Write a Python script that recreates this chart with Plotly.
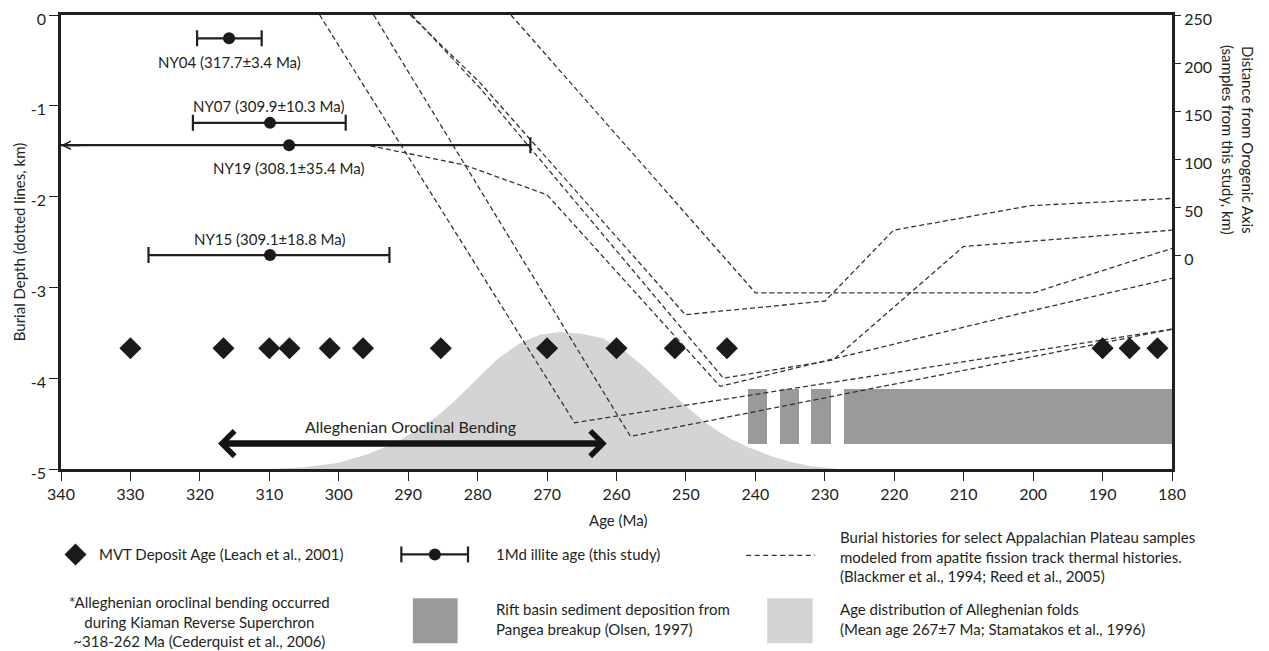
import plotly.graph_objects as go

# ---------------- data ----------------
# MVT deposit ages (Leach et al., 2001)
mvt_age = [330, 316.6, 310, 307.1, 301.3, 296.5, 285.3, 270, 260, 251.6, 244.1, 190, 186.1, 182.1]
mvt_depth = [-3.67, -3.67, -3.67, -3.67, -3.67, -3.67, -3.67, -3.67, -3.67, -3.67, -3.67, -3.67, -3.67, -3.67]

# 1Md illite ages (this study)
illite_label = ["NY04 (317.7±3.4 Ma)", "NY07 (309.9±10.3 Ma)", "NY19 (308.1±35.4 Ma)", "NY15 (309.1±18.8 Ma)"]
illite_age = [315.8, 309.9, 307.15, 309.9]
illite_depth = [-0.257, -1.188, -1.434, -2.644]
illite_err_older = [4.6, 11.1, 35.4, 17.5]
illite_err_younger = [4.7, 10.9, 34.75, 17.2]
illite_label_age = [315.75, 310.1, 307.2, 310.0]
illite_label_depth = [-0.52, -1.0, -1.685, -2.465]

# Age distribution of Alleghenian folds (grey bell)
fold_age = [310, 305, 300, 296, 292, 289, 286, 283, 280, 277, 274, 271, 268, 265, 262,
            259, 256, 253, 250, 247, 244, 241, 238, 235, 232, 228]
fold_depth = [-5.0, -4.98, -4.93, -4.84, -4.72, -4.58, -4.43, -4.23, -4.0, -3.78, -3.62, -3.52,
              -3.49, -3.51, -3.56, -3.69, -3.88, -4.10, -4.31, -4.50, -4.65, -4.76, -4.85,
              -4.92, -4.97, -5.0]

# Rift basin sediment deposition (Olsen, 1997)
rift_start = [241.0, 236.5, 232.0, 227.3]
rift_end = [238.3, 233.7, 229.1, 180.0]
rift_top = -4.12
rift_bottom = -4.72

# Burial histories (dashed lines)
burial_a_age = [302.75, 266.05, 180.0]
burial_a_depth = [0.0, -4.49, -3.46]
burial_b_age = [294.97, 258.0, 180.0]
burial_b_depth = [0.0, -4.64, -3.46]
burial_c_age = [289.45, 279.6, 244.6, 228.8, 210.05, 180.0]
burial_c_depth = [0.0, -0.81, -4.0, -3.80, -2.55, -2.37]
burial_d_age = [289.7, 279.6, 250.1, 229.95, 220.1, 200.4, 180.0]
burial_d_depth = [0.0, -0.75, -3.30, -3.15, -2.37, -2.10, -2.02]
burial_e_age = [275.2, 240.0, 200.0, 180.0]
burial_e_depth = [0.0, -3.06, -3.06, -2.57]
burial_f_age = [295.45, 282.0, 270.0, 245.07, 200.4, 180.0]
burial_f_depth = [-1.44, -1.65, -1.98, -4.09, -3.26, -2.90]

# Alleghenian oroclinal bending (~318-262 Ma)
bend_start = 317.6
bend_end = 261.4
bend_depth = -4.72
bend_label_age = 289.6
bend_label_depth = -4.53

# axes
age_ticks = [340, 330, 320, 310, 300, 290, 280, 270, 260, 250, 240, 230, 220, 210, 200, 190, 180]
depth_ticks = [0, -1, -2, -3, -4, -5]
depth_ticktext = ["0", "-1", "-2", "-3", "-4", "-5"]
dist_ticks = [0, 50, 100, 150, 200, 250]

# ---------------- styling / layout ----------------
FONT = "Lato"
INK = "#231f20"
DASH_COLOR = "#353535"
OFF = 8                      # page offset of the plot div (body margin)
W, H = 1261, 643
PLOT_L, PLOT_T, PW, PH = 60.5, 15, 1111.5, 454.5   # plot area in page pixels
ML = PLOT_L - OFF
MT = PLOT_T - OFF
MR = W - ML - PW
MB = H - MT - PH


def px_x(px):
    return (px - PLOT_L) / PW


def px_y(py):
    return (PLOT_T + PH - py) / PH


fig = go.Figure()

# grey fold distribution
fig.add_trace(go.Scatter(x=fold_age, y=fold_depth, mode="lines", fill="toself",
                         fillcolor="#d4d4d4", line=dict(width=0, color="#d4d4d4"),
                         hoverinfo="skip", showlegend=False))

# rift basin blocks
fig.add_trace(go.Bar(x=[(s + e) / 2 for s, e in zip(rift_start, rift_end)],
                     width=[s - e for s, e in zip(rift_start, rift_end)],
                     y=[rift_top - rift_bottom for _ in rift_start],
                     base=rift_bottom, marker=dict(color="#999a9a", line=dict(width=0)),
                     hoverinfo="skip", showlegend=False))

# burial histories
for ages, depths in [(burial_a_age, burial_a_depth), (burial_b_age, burial_b_depth),
                     (burial_c_age, burial_c_depth), (burial_d_age, burial_d_depth),
                     (burial_e_age, burial_e_depth), (burial_f_age, burial_f_depth)]:
    fig.add_trace(go.Scatter(x=ages, y=depths, mode="lines",
                             line=dict(color=DASH_COLOR, width=1.3, dash="5px,3px"),
                             hoverinfo="skip", showlegend=False))

# MVT diamonds
fig.add_trace(go.Scatter(x=mvt_age, y=mvt_depth, mode="markers",
                         marker=dict(symbol="diamond", size=17, color="#1a1a1a"),
                         hoverinfo="skip", showlegend=False))

# illite ages
fig.add_trace(go.Scatter(x=illite_age, y=illite_depth, mode="markers",
                         marker=dict(symbol="circle", size=12, color="#1a1a1a"),
                         error_x=dict(type="data", symmetric=False, array=illite_err_older,
                                      arrayminus=illite_err_younger, thickness=2.2, width=8,
                                      color=INK),
                         hoverinfo="skip", showlegend=False))

# invisible trace to carry the right axis
fig.add_trace(go.Scatter(x=[260], y=[0], yaxis="y2", mode="markers",
                         marker=dict(opacity=0), hoverinfo="skip", showlegend=False))

annotations = []
for txt, a, d in zip(illite_label, illite_label_age, illite_label_depth):
    annotations.append(dict(x=a, y=d, xref="x", yref="y", text=txt, showarrow=False,
                            xanchor="center", yanchor="middle",
                            font=dict(family=FONT, size=15, color=INK)))

# NY19 arrowhead at left axis
annotations.append(dict(x=340, y=illite_depth[2], ax=337, ay=illite_depth[2], xref="x", yref="y",
                        axref="x", ayref="y", text="", showarrow=True, arrowhead=5,
                        arrowsize=0.8, arrowwidth=2, arrowcolor=INK))

# Alleghenian bending arrow
annotations.append(dict(x=bend_end, y=bend_depth, ax=bend_start, ay=bend_depth, xref="x", yref="y",
                        axref="x", ayref="y", text="", showarrow=True, arrowside="end+start",
                        arrowhead=4, startarrowhead=4, arrowsize=0.75, startarrowsize=0.75,
                        arrowwidth=6.5, arrowcolor="#141414"))
annotations.append(dict(x=bend_label_age, y=bend_label_depth, xref="x", yref="y",
                        text="Alleghenian Oroclinal Bending", showarrow=False,
                        xanchor="center", yanchor="middle",
                        font=dict(family=FONT, size=16, color=INK)))

# axis titles
annotations.append(dict(x=px_x(18), y=px_y(242), xref="paper", yref="paper",
                        text="Burial Depth (dotted lines, km)", textangle=-90, showarrow=False,
                        xanchor="center", yanchor="middle",
                        font=dict(family=FONT, size=15, color=INK)))
annotations.append(dict(x=px_x(618), y=px_y(521), xref="paper", yref="paper",
                        text="Age (Ma)", showarrow=False, xanchor="center", yanchor="middle",
                        font=dict(family=FONT, size=15, color=INK)))
annotations.append(dict(x=px_x(1238), y=px_y(140), xref="paper", yref="paper",
                        text="Distance from Orogenic Axis<br>(samples from this study, km)",
                        textangle=90, showarrow=False, xanchor="center", yanchor="middle",
                        font=dict(family=FONT, size=15, color=INK)))


# legend texts
def legend_text(px, py, txt, xanchor="left", align="left"):
    annotations.append(dict(x=px_x(px), y=px_y(py), xref="paper", yref="paper", text=txt,
                            showarrow=False, xanchor=xanchor, yanchor="middle", align=align,
                            font=dict(family=FONT, size=15, color=INK)))


legend_text(97, 555, "MVT Deposit Age (Leach et al., 2001)")
legend_text(494, 555, "1Md illite age (this study)")
legend_text(838, 557, "Burial histories for select Appalachian Plateau samples<br>"
                      "modeled from apatite fission track thermal histories.<br>"
                      "(Blackmer et al., 1994; Reed et al., 2005)")
legend_text(199, 622, "*Alleghenian oroclinal bending occurred<br>during Kiaman Reverse Superchron<br>"
                      "~318-262 Ma (Cederquist et al., 2006)", xanchor="center", align="center")
legend_text(494, 620, "Rift basin sediment deposition from<br>Pangea breakup (Olsen, 1997)")
legend_text(838, 620, "Age distribution of Alleghenian folds<br>(Mean age 267±7 Ma; Stamatakos et al., 1996)")

shapes = []
# legend diamond
cx, cy, hw, hh = 75, 555, 11, 11
shapes.append(dict(type="path", xref="paper", yref="paper",
                   path=f"M{px_x(cx)},{px_y(cy - hh)} L{px_x(cx + hw)},{px_y(cy)} "
                        f"L{px_x(cx)},{px_y(cy + hh)} L{px_x(cx - hw)},{px_y(cy)} Z",
                   fillcolor="#1a1a1a", line=dict(width=0)))
# legend error bar
shapes.append(dict(type="line", xref="paper", yref="paper", x0=px_x(401), x1=px_x(467.7),
                   y0=px_y(555), y1=px_y(555), line=dict(color=INK, width=2.2)))
for xx in (401, 467.7):
    shapes.append(dict(type="line", xref="paper", yref="paper", x0=px_x(xx), x1=px_x(xx),
                       y0=px_y(547), y1=px_y(563), line=dict(color=INK, width=2.2)))
shapes.append(dict(type="circle", xref="paper", yref="paper", x0=px_x(428.5), x1=px_x(440.5),
                   y0=px_y(549), y1=px_y(561), fillcolor="#1a1a1a", line=dict(width=0)))
# legend dashed line
shapes.append(dict(type="line", xref="paper", yref="paper", x0=px_x(746), x1=px_x(815),
                   y0=px_y(556), y1=px_y(556), line=dict(color=DASH_COLOR, width=1.3, dash="5px,3.5px")))
# legend squares
shapes.append(dict(type="rect", xref="paper", yref="paper", x0=px_x(412.5), x1=px_x(457.3),
                   y0=px_y(599), y1=px_y(644), fillcolor="#999a9a", line=dict(width=0)))
shapes.append(dict(type="rect", xref="paper", yref="paper", x0=px_x(767), x1=px_x(812.5),
                   y0=px_y(599), y1=px_y(644), fillcolor="#d4d4d4", line=dict(width=0)))

tickfont = dict(family=FONT, size=16, color=INK)
fig.update_layout(
    width=W, height=H,
    margin=dict(l=ML, r=MR, t=MT, b=MB, autoexpand=False),
    paper_bgcolor="white", plot_bgcolor="white",
    showlegend=False,
    xaxis=dict(range=[340, 180], tickmode="array", tickvals=age_ticks, ticks="outside",
               ticklen=9, tickwidth=1.3, tickcolor=INK, showline=True, mirror=True,
               linewidth=2.5, linecolor=INK, showgrid=False, zeroline=False, tickfont=tickfont,
               ticklabeloverflow="allow"),
    yaxis=dict(range=[-5, 0], tickmode="array", tickvals=depth_ticks, ticktext=depth_ticktext,
               ticks="outside", ticklen=9, tickwidth=1.3, tickcolor=INK, showline=True,
               mirror=True, linewidth=2.5, linecolor=INK, showgrid=False, zeroline=False,
               tickfont=tickfont, ticklabeloverflow="allow", ticklabelshift=4),
    yaxis2=dict(overlaying="y", side="right", range=[-222.4, 250], tickmode="array",
                tickvals=dist_ticks, ticks="outside", ticklen=8, tickwidth=1.3, tickcolor=INK,
                showline=False, showgrid=False, zeroline=False, tickfont=tickfont,
                ticklabeloverflow="allow", ticklabelshift=4),
    annotations=annotations,
    shapes=shapes,
    bargap=0,
)

fig.write_html("out.html")
